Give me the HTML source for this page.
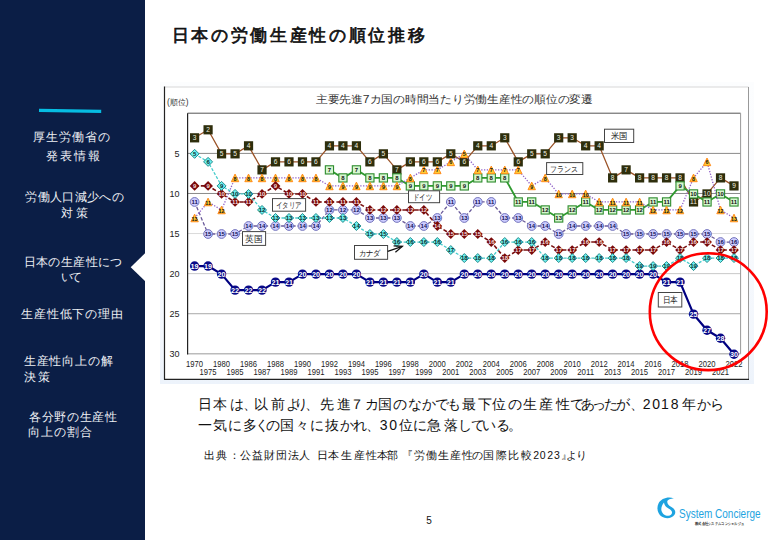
<!DOCTYPE html>
<html><head><meta charset="utf-8"><style>
*{margin:0;padding:0;box-sizing:border-box}
html,body{width:780px;height:540px;overflow:hidden;background:#fff;font-family:"Liberation Sans",sans-serif}
#side{position:absolute;left:0;top:0;width:145.3px;height:540px;background:#0b1e46}
.nav{position:absolute;color:#eef0f4;font-size:12.2px;line-height:17px;white-space:nowrap}
.chart{position:absolute;left:0;top:0}
.chart text{font-family:"Liberation Sans",sans-serif}
.yt{font-size:9px;fill:#222}
.xt{font-size:8.4px;fill:#222}
.unit{font-size:8.4px;fill:#333}
.ct{font-size:11.4px;fill:#333}
.ml{text-anchor:middle} .b{font-weight:bold}
.lb{fill:#222}
.t{position:absolute;white-space:nowrap;line-height:1}
</style></head><body>
<div id="side"></div>
<svg style="position:absolute;left:0;top:0" width="160" height="540"><polygon points="146,252.3 130.7,267.3 146,282.1" fill="#fff"/>
<line x1="39" y1="110.35" x2="101.2" y2="111.45" stroke="#06bde2" stroke-width="3.2"/></svg>
<div class="t" style="left:171.60px;top:27.87px;font-size:16.90px;letter-spacing:2.685px;font-weight:normal;color:#111;-webkit-text-stroke:0.7px #111">日本の労働生産性の順位推移</div>
<div class="t" style="left:33.40px;top:132.19px;font-size:11.80px;letter-spacing:0.990px;font-weight:normal;color:#eef0f4">厚生労働省の</div>
<div class="t" style="left:45.60px;top:151.44px;font-size:11.80px;letter-spacing:1.980px;font-weight:normal;color:#eef0f4">発表情報</div>
<div class="t" style="left:25.20px;top:191.74px;font-size:11.80px;letter-spacing:0.347px;font-weight:normal;color:#eef0f4">労働人口減少への</div>
<div class="t" style="left:61.00px;top:207.54px;font-size:11.80px;letter-spacing:2.790px;font-weight:normal;color:#eef0f4">対策</div>
<div class="t" style="left:23.80px;top:256.79px;font-size:11.80px;letter-spacing:0.347px;font-weight:normal;color:#eef0f4">日本の生産性につ</div>
<div class="t" style="left:60.80px;top:272.24px;font-size:11.80px;letter-spacing:-2.520px;font-weight:normal;color:#eef0f4">いて</div>
<div class="t" style="left:21.40px;top:309.49px;font-size:11.80px;letter-spacing:0.733px;font-weight:normal;color:#eef0f4">生産性低下の理由</div>
<div class="t" style="left:23.80px;top:355.69px;font-size:11.80px;letter-spacing:0.810px;font-weight:normal;color:#eef0f4">生産性向上の解</div>
<div class="t" style="left:23.80px;top:371.89px;font-size:11.80px;letter-spacing:2.430px;font-weight:normal;color:#eef0f4">決策</div>
<div class="t" style="left:28.80px;top:412.39px;font-size:11.80px;letter-spacing:0.720px;font-weight:normal;color:#eef0f4">各分野の生産性</div>
<div class="t" style="left:27.80px;top:427.04px;font-size:11.80px;letter-spacing:0.990px;font-weight:normal;color:#eef0f4">向上の割合</div>
<svg class="chart" width="780" height="540" viewBox="0 0 780 540">
<defs><linearGradient id="mg" x1="0" y1="0" x2="0" y2="1"><stop offset="0" stop-color="#fcfdfe"/><stop offset="0.5" stop-color="#f8fafd"/><stop offset="0.85" stop-color="#f2f6fc"/><stop offset="1" stop-color="#edf3fb"/></linearGradient></defs>
<rect x="160" y="82" width="594" height="302" fill="url(#mg)"/>
<rect x="164.5" y="87" width="584" height="292.5" fill="#fff"/>
<line x1="164.5" y1="87" x2="748.5" y2="87" stroke="#d8d8d8" stroke-width="1.2"/>
<line x1="748.5" y1="87" x2="748.5" y2="379.5" stroke="#999" stroke-width="1"/>
<line x1="164.5" y1="86.5" x2="164.5" y2="379.5" stroke="#222" stroke-width="1.2"/>
<line x1="164" y1="379.3" x2="749" y2="379.3" stroke="#222" stroke-width="1.3"/>
<rect x="187.6" y="113.2" width="553" height="241" fill="#fff"/>
<line x1="187.6" y1="153.40" x2="740.6" y2="153.40" stroke="#8a8a8a" stroke-width="1"/>
<line x1="187.6" y1="193.48" x2="740.6" y2="193.48" stroke="#8a8a8a" stroke-width="1"/>
<line x1="187.6" y1="233.56" x2="740.6" y2="233.56" stroke="#dadada" stroke-width="1"/>
<line x1="187.6" y1="273.64" x2="740.6" y2="273.64" stroke="#c8c8c8" stroke-width="1"/>
<line x1="187.6" y1="313.72" x2="740.6" y2="313.72" stroke="#a8a8a8" stroke-width="1"/>
<line x1="187.6" y1="113.2" x2="740.6" y2="113.2" stroke="#555" stroke-width="1"/>
<line x1="740.6" y1="113.2" x2="740.6" y2="354" stroke="#999" stroke-width="1"/>
<line x1="187.6" y1="353.8" x2="740.6" y2="353.8" stroke="#bbb" stroke-width="1.6"/>
<line x1="187.6" y1="113.2" x2="187.6" y2="354.4" stroke="#222" stroke-width="1.2"/>
<text x="179.5" y="156.60" text-anchor="end" class="yt">5</text>
<text x="179.5" y="196.68" text-anchor="end" class="yt">10</text>
<text x="179.5" y="236.76" text-anchor="end" class="yt">15</text>
<text x="179.5" y="276.84" text-anchor="end" class="yt">20</text>
<text x="179.5" y="316.92" text-anchor="end" class="yt">25</text>
<text x="179.5" y="357.00" text-anchor="end" class="yt">30</text>
<text x="167" y="104.6" class="unit" textLength="21.5" lengthAdjust="spacingAndGlyphs">(順位)</text>
<text x="194.60" y="367" text-anchor="middle" class="xt" textLength="17" lengthAdjust="spacingAndGlyphs">1970</text>
<text x="208.08" y="375" text-anchor="middle" class="xt" textLength="17" lengthAdjust="spacingAndGlyphs">1975</text>
<text x="221.57" y="367" text-anchor="middle" class="xt" textLength="17" lengthAdjust="spacingAndGlyphs">1980</text>
<text x="235.06" y="375" text-anchor="middle" class="xt" textLength="17" lengthAdjust="spacingAndGlyphs">1985</text>
<text x="248.54" y="367" text-anchor="middle" class="xt" textLength="17" lengthAdjust="spacingAndGlyphs">1986</text>
<text x="262.02" y="375" text-anchor="middle" class="xt" textLength="17" lengthAdjust="spacingAndGlyphs">1987</text>
<text x="275.51" y="367" text-anchor="middle" class="xt" textLength="17" lengthAdjust="spacingAndGlyphs">1988</text>
<text x="289.00" y="375" text-anchor="middle" class="xt" textLength="17" lengthAdjust="spacingAndGlyphs">1989</text>
<text x="302.48" y="367" text-anchor="middle" class="xt" textLength="17" lengthAdjust="spacingAndGlyphs">1990</text>
<text x="315.96" y="375" text-anchor="middle" class="xt" textLength="17" lengthAdjust="spacingAndGlyphs">1991</text>
<text x="329.45" y="367" text-anchor="middle" class="xt" textLength="17" lengthAdjust="spacingAndGlyphs">1992</text>
<text x="342.93" y="375" text-anchor="middle" class="xt" textLength="17" lengthAdjust="spacingAndGlyphs">1993</text>
<text x="356.42" y="367" text-anchor="middle" class="xt" textLength="17" lengthAdjust="spacingAndGlyphs">1994</text>
<text x="369.90" y="375" text-anchor="middle" class="xt" textLength="17" lengthAdjust="spacingAndGlyphs">1995</text>
<text x="383.39" y="367" text-anchor="middle" class="xt" textLength="17" lengthAdjust="spacingAndGlyphs">1996</text>
<text x="396.88" y="375" text-anchor="middle" class="xt" textLength="17" lengthAdjust="spacingAndGlyphs">1997</text>
<text x="410.36" y="367" text-anchor="middle" class="xt" textLength="17" lengthAdjust="spacingAndGlyphs">1998</text>
<text x="423.85" y="375" text-anchor="middle" class="xt" textLength="17" lengthAdjust="spacingAndGlyphs">1999</text>
<text x="437.33" y="367" text-anchor="middle" class="xt" textLength="17" lengthAdjust="spacingAndGlyphs">2000</text>
<text x="450.81" y="375" text-anchor="middle" class="xt" textLength="17" lengthAdjust="spacingAndGlyphs">2001</text>
<text x="464.30" y="367" text-anchor="middle" class="xt" textLength="17" lengthAdjust="spacingAndGlyphs">2002</text>
<text x="477.78" y="375" text-anchor="middle" class="xt" textLength="17" lengthAdjust="spacingAndGlyphs">2003</text>
<text x="491.27" y="367" text-anchor="middle" class="xt" textLength="17" lengthAdjust="spacingAndGlyphs">2004</text>
<text x="504.75" y="375" text-anchor="middle" class="xt" textLength="17" lengthAdjust="spacingAndGlyphs">2005</text>
<text x="518.24" y="367" text-anchor="middle" class="xt" textLength="17" lengthAdjust="spacingAndGlyphs">2006</text>
<text x="531.73" y="375" text-anchor="middle" class="xt" textLength="17" lengthAdjust="spacingAndGlyphs">2007</text>
<text x="545.21" y="367" text-anchor="middle" class="xt" textLength="17" lengthAdjust="spacingAndGlyphs">2008</text>
<text x="558.69" y="375" text-anchor="middle" class="xt" textLength="17" lengthAdjust="spacingAndGlyphs">2009</text>
<text x="572.18" y="367" text-anchor="middle" class="xt" textLength="17" lengthAdjust="spacingAndGlyphs">2010</text>
<text x="585.66" y="375" text-anchor="middle" class="xt" textLength="17" lengthAdjust="spacingAndGlyphs">2011</text>
<text x="599.15" y="367" text-anchor="middle" class="xt" textLength="17" lengthAdjust="spacingAndGlyphs">2012</text>
<text x="612.63" y="375" text-anchor="middle" class="xt" textLength="17" lengthAdjust="spacingAndGlyphs">2013</text>
<text x="626.12" y="367" text-anchor="middle" class="xt" textLength="17" lengthAdjust="spacingAndGlyphs">2014</text>
<text x="639.61" y="375" text-anchor="middle" class="xt" textLength="17" lengthAdjust="spacingAndGlyphs">2015</text>
<text x="653.09" y="367" text-anchor="middle" class="xt" textLength="17" lengthAdjust="spacingAndGlyphs">2016</text>
<text x="666.57" y="375" text-anchor="middle" class="xt" textLength="17" lengthAdjust="spacingAndGlyphs">2017</text>
<text x="680.06" y="367" text-anchor="middle" class="xt" textLength="17" lengthAdjust="spacingAndGlyphs">2018</text>
<text x="693.54" y="375" text-anchor="middle" class="xt" textLength="17" lengthAdjust="spacingAndGlyphs">2019</text>
<text x="707.03" y="367" text-anchor="middle" class="xt" textLength="17" lengthAdjust="spacingAndGlyphs">2020</text>
<text x="720.51" y="375" text-anchor="middle" class="xt" textLength="17" lengthAdjust="spacingAndGlyphs">2021</text>
<text x="734.00" y="367" text-anchor="middle" class="xt" textLength="17" lengthAdjust="spacingAndGlyphs">2022</text>
<text x="315.8" y="103.1" class="ct" textLength="277" lengthAdjust="spacingAndGlyphs">主要先進7カ国の時間当たり労働生産性の順位の変遷</text>
<polyline points="194.60,266.07 208.08,266.07 221.57,274.09 235.06,290.12 248.54,290.12 262.02,290.12 275.51,282.11 289.00,282.11 302.48,274.09 315.96,274.09 329.45,274.09 342.93,274.09 356.42,274.09 369.90,282.11 383.39,282.11 396.88,282.11 410.36,282.11 423.85,274.09 437.33,282.11 450.81,282.11 464.30,274.09 477.78,274.09 491.27,274.09 504.75,274.09 518.24,274.09 531.73,274.09 545.21,274.09 558.69,274.09 572.18,274.09 585.66,274.09 599.15,274.09 612.63,274.09 626.12,274.09 639.61,274.09 653.09,274.09 666.57,282.11 680.06,282.11 693.54,314.17 707.03,330.20 720.51,338.22 734.00,354.25" fill="none" stroke="#000080" stroke-width="2.2" stroke-linecap="butt" stroke-linejoin="round"/>
<circle cx="194.60" cy="266.07" r="4.7" fill="#0a0a88"/>
<text x="194.60" y="268.67" class="ml b" fill="#ffffff" font-size="7.2">19</text>
<circle cx="208.08" cy="266.07" r="4.7" fill="#0a0a88"/>
<text x="208.08" y="268.67" class="ml b" fill="#ffffff" font-size="7.2">19</text>
<circle cx="221.57" cy="274.09" r="4.7" fill="#0a0a88"/>
<text x="221.57" y="276.68" class="ml b" fill="#ffffff" font-size="7.2">20</text>
<circle cx="235.06" cy="290.12" r="4.7" fill="#0a0a88"/>
<text x="235.06" y="292.71" class="ml b" fill="#ffffff" font-size="7.2">22</text>
<circle cx="248.54" cy="290.12" r="4.7" fill="#0a0a88"/>
<text x="248.54" y="292.71" class="ml b" fill="#ffffff" font-size="7.2">22</text>
<circle cx="262.02" cy="290.12" r="4.7" fill="#0a0a88"/>
<text x="262.02" y="292.71" class="ml b" fill="#ffffff" font-size="7.2">22</text>
<circle cx="275.51" cy="282.11" r="4.7" fill="#0a0a88"/>
<text x="275.51" y="284.70" class="ml b" fill="#ffffff" font-size="7.2">21</text>
<circle cx="289.00" cy="282.11" r="4.7" fill="#0a0a88"/>
<text x="289.00" y="284.70" class="ml b" fill="#ffffff" font-size="7.2">21</text>
<circle cx="302.48" cy="274.09" r="4.7" fill="#0a0a88"/>
<text x="302.48" y="276.68" class="ml b" fill="#ffffff" font-size="7.2">20</text>
<circle cx="315.96" cy="274.09" r="4.7" fill="#0a0a88"/>
<text x="315.96" y="276.68" class="ml b" fill="#ffffff" font-size="7.2">20</text>
<circle cx="329.45" cy="274.09" r="4.7" fill="#0a0a88"/>
<text x="329.45" y="276.68" class="ml b" fill="#ffffff" font-size="7.2">20</text>
<circle cx="342.93" cy="274.09" r="4.7" fill="#0a0a88"/>
<text x="342.93" y="276.68" class="ml b" fill="#ffffff" font-size="7.2">20</text>
<circle cx="356.42" cy="274.09" r="4.7" fill="#0a0a88"/>
<text x="356.42" y="276.68" class="ml b" fill="#ffffff" font-size="7.2">20</text>
<circle cx="369.90" cy="282.11" r="4.7" fill="#0a0a88"/>
<text x="369.90" y="284.70" class="ml b" fill="#ffffff" font-size="7.2">21</text>
<circle cx="383.39" cy="282.11" r="4.7" fill="#0a0a88"/>
<text x="383.39" y="284.70" class="ml b" fill="#ffffff" font-size="7.2">21</text>
<circle cx="396.88" cy="282.11" r="4.7" fill="#0a0a88"/>
<text x="396.88" y="284.70" class="ml b" fill="#ffffff" font-size="7.2">21</text>
<circle cx="410.36" cy="282.11" r="4.7" fill="#0a0a88"/>
<text x="410.36" y="284.70" class="ml b" fill="#ffffff" font-size="7.2">21</text>
<circle cx="423.85" cy="274.09" r="4.7" fill="#0a0a88"/>
<text x="423.85" y="276.68" class="ml b" fill="#ffffff" font-size="7.2">20</text>
<circle cx="437.33" cy="282.11" r="4.7" fill="#0a0a88"/>
<text x="437.33" y="284.70" class="ml b" fill="#ffffff" font-size="7.2">21</text>
<circle cx="450.81" cy="282.11" r="4.7" fill="#0a0a88"/>
<text x="450.81" y="284.70" class="ml b" fill="#ffffff" font-size="7.2">21</text>
<circle cx="464.30" cy="274.09" r="4.7" fill="#0a0a88"/>
<text x="464.30" y="276.68" class="ml b" fill="#ffffff" font-size="7.2">20</text>
<circle cx="477.78" cy="274.09" r="4.7" fill="#0a0a88"/>
<text x="477.78" y="276.68" class="ml b" fill="#ffffff" font-size="7.2">20</text>
<circle cx="491.27" cy="274.09" r="4.7" fill="#0a0a88"/>
<text x="491.27" y="276.68" class="ml b" fill="#ffffff" font-size="7.2">20</text>
<circle cx="504.75" cy="274.09" r="4.7" fill="#0a0a88"/>
<text x="504.75" y="276.68" class="ml b" fill="#ffffff" font-size="7.2">20</text>
<circle cx="518.24" cy="274.09" r="4.7" fill="#0a0a88"/>
<text x="518.24" y="276.68" class="ml b" fill="#ffffff" font-size="7.2">20</text>
<circle cx="531.73" cy="274.09" r="4.7" fill="#0a0a88"/>
<text x="531.73" y="276.68" class="ml b" fill="#ffffff" font-size="7.2">20</text>
<circle cx="545.21" cy="274.09" r="4.7" fill="#0a0a88"/>
<text x="545.21" y="276.68" class="ml b" fill="#ffffff" font-size="7.2">20</text>
<circle cx="558.69" cy="274.09" r="4.7" fill="#0a0a88"/>
<text x="558.69" y="276.68" class="ml b" fill="#ffffff" font-size="7.2">20</text>
<circle cx="572.18" cy="274.09" r="4.7" fill="#0a0a88"/>
<text x="572.18" y="276.68" class="ml b" fill="#ffffff" font-size="7.2">20</text>
<circle cx="585.66" cy="274.09" r="4.7" fill="#0a0a88"/>
<text x="585.66" y="276.68" class="ml b" fill="#ffffff" font-size="7.2">20</text>
<circle cx="599.15" cy="274.09" r="4.7" fill="#0a0a88"/>
<text x="599.15" y="276.68" class="ml b" fill="#ffffff" font-size="7.2">20</text>
<circle cx="612.63" cy="274.09" r="4.7" fill="#0a0a88"/>
<text x="612.63" y="276.68" class="ml b" fill="#ffffff" font-size="7.2">20</text>
<circle cx="626.12" cy="274.09" r="4.7" fill="#0a0a88"/>
<text x="626.12" y="276.68" class="ml b" fill="#ffffff" font-size="7.2">20</text>
<circle cx="639.61" cy="274.09" r="4.7" fill="#0a0a88"/>
<text x="639.61" y="276.68" class="ml b" fill="#ffffff" font-size="7.2">20</text>
<circle cx="653.09" cy="274.09" r="4.7" fill="#0a0a88"/>
<text x="653.09" y="276.68" class="ml b" fill="#ffffff" font-size="7.2">20</text>
<circle cx="666.57" cy="282.11" r="4.7" fill="#0a0a88"/>
<text x="666.57" y="284.70" class="ml b" fill="#ffffff" font-size="7.2">21</text>
<circle cx="680.06" cy="282.11" r="4.7" fill="#0a0a88"/>
<text x="680.06" y="284.70" class="ml b" fill="#ffffff" font-size="7.2">21</text>
<circle cx="693.54" cy="314.17" r="4.7" fill="#0a0a88"/>
<text x="693.54" y="316.76" class="ml b" fill="#ffffff" font-size="7.2">25</text>
<circle cx="707.03" cy="330.20" r="4.7" fill="#0a0a88"/>
<text x="707.03" y="332.79" class="ml b" fill="#ffffff" font-size="7.2">27</text>
<circle cx="720.51" cy="338.22" r="4.7" fill="#0a0a88"/>
<text x="720.51" y="340.81" class="ml b" fill="#ffffff" font-size="7.2">28</text>
<circle cx="734.00" cy="354.25" r="4.7" fill="#0a0a88"/>
<text x="734.00" y="356.84" class="ml b" fill="#ffffff" font-size="7.2">30</text>
<polyline points="194.60,137.82 208.08,129.80 221.57,153.85 235.06,153.85 248.54,145.83 262.02,169.88 275.51,161.87 289.00,161.87 302.48,161.87 315.96,161.87 329.45,145.83 342.93,145.83 356.42,145.83 369.90,161.87 383.39,153.85 396.88,169.88 410.36,161.87 423.85,161.87 437.33,161.87 450.81,153.85 464.30,161.87 477.78,145.83 491.27,145.83 504.75,137.82 518.24,161.87 531.73,153.85 545.21,153.85 558.69,137.82 572.18,137.82 585.66,145.83 599.15,145.83 612.63,177.90 626.12,169.88 639.61,177.90 653.09,177.90 666.57,177.90 680.06,177.90 693.54,201.95 707.03,193.93 720.51,177.90 734.00,185.91" fill="none" stroke="#9a5226" stroke-width="1.25" stroke-linecap="butt" stroke-linejoin="round"/>
<rect x="190.00" y="133.22" width="9.2" height="9.2" fill="#2e2e0c"/>
<text x="194.60" y="140.19" class="ml" fill="#f0f0e0" font-size="6.6">3</text>
<rect x="203.48" y="125.20" width="9.2" height="9.2" fill="#2e2e0c"/>
<text x="208.08" y="132.18" class="ml" fill="#f0f0e0" font-size="6.6">2</text>
<rect x="216.97" y="149.25" width="9.2" height="9.2" fill="#2e2e0c"/>
<text x="221.57" y="156.23" class="ml" fill="#f0f0e0" font-size="6.6">5</text>
<rect x="230.46" y="149.25" width="9.2" height="9.2" fill="#2e2e0c"/>
<text x="235.06" y="156.23" class="ml" fill="#f0f0e0" font-size="6.6">5</text>
<rect x="243.94" y="141.23" width="9.2" height="9.2" fill="#2e2e0c"/>
<text x="248.54" y="148.21" class="ml" fill="#f0f0e0" font-size="6.6">4</text>
<rect x="257.42" y="165.28" width="9.2" height="9.2" fill="#2e2e0c"/>
<text x="262.02" y="172.26" class="ml" fill="#f0f0e0" font-size="6.6">7</text>
<rect x="270.91" y="157.27" width="9.2" height="9.2" fill="#2e2e0c"/>
<text x="275.51" y="164.24" class="ml" fill="#f0f0e0" font-size="6.6">6</text>
<rect x="284.39" y="157.27" width="9.2" height="9.2" fill="#2e2e0c"/>
<text x="289.00" y="164.24" class="ml" fill="#f0f0e0" font-size="6.6">6</text>
<rect x="297.88" y="157.27" width="9.2" height="9.2" fill="#2e2e0c"/>
<text x="302.48" y="164.24" class="ml" fill="#f0f0e0" font-size="6.6">6</text>
<rect x="311.36" y="157.27" width="9.2" height="9.2" fill="#2e2e0c"/>
<text x="315.96" y="164.24" class="ml" fill="#f0f0e0" font-size="6.6">6</text>
<rect x="324.85" y="141.23" width="9.2" height="9.2" fill="#2e2e0c"/>
<text x="329.45" y="148.21" class="ml" fill="#f0f0e0" font-size="6.6">4</text>
<rect x="338.33" y="141.23" width="9.2" height="9.2" fill="#2e2e0c"/>
<text x="342.93" y="148.21" class="ml" fill="#f0f0e0" font-size="6.6">4</text>
<rect x="351.82" y="141.23" width="9.2" height="9.2" fill="#2e2e0c"/>
<text x="356.42" y="148.21" class="ml" fill="#f0f0e0" font-size="6.6">4</text>
<rect x="365.30" y="157.27" width="9.2" height="9.2" fill="#2e2e0c"/>
<text x="369.90" y="164.24" class="ml" fill="#f0f0e0" font-size="6.6">6</text>
<rect x="378.79" y="149.25" width="9.2" height="9.2" fill="#2e2e0c"/>
<text x="383.39" y="156.23" class="ml" fill="#f0f0e0" font-size="6.6">5</text>
<rect x="392.27" y="165.28" width="9.2" height="9.2" fill="#2e2e0c"/>
<text x="396.88" y="172.26" class="ml" fill="#f0f0e0" font-size="6.6">7</text>
<rect x="405.76" y="157.27" width="9.2" height="9.2" fill="#2e2e0c"/>
<text x="410.36" y="164.24" class="ml" fill="#f0f0e0" font-size="6.6">6</text>
<rect x="419.25" y="157.27" width="9.2" height="9.2" fill="#2e2e0c"/>
<text x="423.85" y="164.24" class="ml" fill="#f0f0e0" font-size="6.6">6</text>
<rect x="432.73" y="157.27" width="9.2" height="9.2" fill="#2e2e0c"/>
<text x="437.33" y="164.24" class="ml" fill="#f0f0e0" font-size="6.6">6</text>
<rect x="446.21" y="149.25" width="9.2" height="9.2" fill="#2e2e0c"/>
<text x="450.81" y="156.23" class="ml" fill="#f0f0e0" font-size="6.6">5</text>
<rect x="459.70" y="157.27" width="9.2" height="9.2" fill="#2e2e0c"/>
<text x="464.30" y="164.24" class="ml" fill="#f0f0e0" font-size="6.6">6</text>
<rect x="473.18" y="141.23" width="9.2" height="9.2" fill="#2e2e0c"/>
<text x="477.78" y="148.21" class="ml" fill="#f0f0e0" font-size="6.6">4</text>
<rect x="486.67" y="141.23" width="9.2" height="9.2" fill="#2e2e0c"/>
<text x="491.27" y="148.21" class="ml" fill="#f0f0e0" font-size="6.6">4</text>
<rect x="500.15" y="133.22" width="9.2" height="9.2" fill="#2e2e0c"/>
<text x="504.75" y="140.19" class="ml" fill="#f0f0e0" font-size="6.6">3</text>
<rect x="513.64" y="157.27" width="9.2" height="9.2" fill="#2e2e0c"/>
<text x="518.24" y="164.24" class="ml" fill="#f0f0e0" font-size="6.6">6</text>
<rect x="527.12" y="149.25" width="9.2" height="9.2" fill="#2e2e0c"/>
<text x="531.73" y="156.23" class="ml" fill="#f0f0e0" font-size="6.6">5</text>
<rect x="540.61" y="149.25" width="9.2" height="9.2" fill="#2e2e0c"/>
<text x="545.21" y="156.23" class="ml" fill="#f0f0e0" font-size="6.6">5</text>
<rect x="554.09" y="133.22" width="9.2" height="9.2" fill="#2e2e0c"/>
<text x="558.69" y="140.19" class="ml" fill="#f0f0e0" font-size="6.6">3</text>
<rect x="567.58" y="133.22" width="9.2" height="9.2" fill="#2e2e0c"/>
<text x="572.18" y="140.19" class="ml" fill="#f0f0e0" font-size="6.6">3</text>
<rect x="581.06" y="141.23" width="9.2" height="9.2" fill="#2e2e0c"/>
<text x="585.66" y="148.21" class="ml" fill="#f0f0e0" font-size="6.6">4</text>
<rect x="594.55" y="141.23" width="9.2" height="9.2" fill="#2e2e0c"/>
<text x="599.15" y="148.21" class="ml" fill="#f0f0e0" font-size="6.6">4</text>
<rect x="608.03" y="173.30" width="9.2" height="9.2" fill="#2e2e0c"/>
<text x="612.63" y="180.27" class="ml" fill="#f0f0e0" font-size="6.6">8</text>
<rect x="621.52" y="165.28" width="9.2" height="9.2" fill="#2e2e0c"/>
<text x="626.12" y="172.26" class="ml" fill="#f0f0e0" font-size="6.6">7</text>
<rect x="635.00" y="173.30" width="9.2" height="9.2" fill="#2e2e0c"/>
<text x="639.61" y="180.27" class="ml" fill="#f0f0e0" font-size="6.6">8</text>
<rect x="648.49" y="173.30" width="9.2" height="9.2" fill="#2e2e0c"/>
<text x="653.09" y="180.27" class="ml" fill="#f0f0e0" font-size="6.6">8</text>
<rect x="661.97" y="173.30" width="9.2" height="9.2" fill="#2e2e0c"/>
<text x="666.57" y="180.27" class="ml" fill="#f0f0e0" font-size="6.6">8</text>
<rect x="675.46" y="173.30" width="9.2" height="9.2" fill="#2e2e0c"/>
<text x="680.06" y="180.27" class="ml" fill="#f0f0e0" font-size="6.6">8</text>
<rect x="688.94" y="197.35" width="9.2" height="9.2" fill="#2e2e0c"/>
<text x="693.54" y="204.32" class="ml" fill="#f0f0e0" font-size="6.6">11</text>
<rect x="702.43" y="189.33" width="9.2" height="9.2" fill="#2e2e0c"/>
<text x="707.03" y="196.31" class="ml" fill="#f0f0e0" font-size="6.6">10</text>
<rect x="715.91" y="173.30" width="9.2" height="9.2" fill="#2e2e0c"/>
<text x="720.51" y="180.27" class="ml" fill="#f0f0e0" font-size="6.6">8</text>
<rect x="729.40" y="181.31" width="9.2" height="9.2" fill="#2e2e0c"/>
<text x="734.00" y="188.29" class="ml" fill="#f0f0e0" font-size="6.6">9</text>
<polyline points="194.60,201.95 208.08,234.01 221.57,234.01 235.06,234.01 248.54,225.99 262.02,225.99 275.51,225.99 289.00,225.99 302.48,225.99 315.96,225.99 329.45,209.96 342.93,209.96 356.42,209.96 369.90,217.98 383.39,217.98 396.88,217.98 410.36,225.99 423.85,225.99 437.33,217.98 450.81,201.95 464.30,217.98 477.78,201.95 491.27,201.95 504.75,217.98 518.24,217.98 531.73,225.99 545.21,225.99 558.69,234.01 572.18,225.99 585.66,225.99 599.15,225.99 612.63,225.99 626.12,234.01 639.61,234.01 653.09,234.01 666.57,234.01 680.06,234.01 693.54,234.01 707.03,234.01 720.51,242.03 734.00,242.03" fill="none" stroke="#6a5a9a" stroke-width="1.3" stroke-dasharray="3.5,2" stroke-linecap="butt" stroke-linejoin="round"/>
<circle cx="194.60" cy="201.95" r="4.4" fill="#ccccff" stroke="#7474bc" stroke-width="1.0"/>
<text x="194.60" y="204.11" class="ml b" fill="#111155" font-size="6">11</text>
<circle cx="208.08" cy="234.01" r="4.4" fill="#ccccff" stroke="#7474bc" stroke-width="1.0"/>
<text x="208.08" y="236.17" class="ml b" fill="#111155" font-size="6">15</text>
<circle cx="221.57" cy="234.01" r="4.4" fill="#ccccff" stroke="#7474bc" stroke-width="1.0"/>
<text x="221.57" y="236.17" class="ml b" fill="#111155" font-size="6">15</text>
<circle cx="235.06" cy="234.01" r="4.4" fill="#ccccff" stroke="#7474bc" stroke-width="1.0"/>
<text x="235.06" y="236.17" class="ml b" fill="#111155" font-size="6">15</text>
<circle cx="248.54" cy="225.99" r="4.4" fill="#ccccff" stroke="#7474bc" stroke-width="1.0"/>
<text x="248.54" y="228.15" class="ml b" fill="#111155" font-size="6">14</text>
<circle cx="262.02" cy="225.99" r="4.4" fill="#ccccff" stroke="#7474bc" stroke-width="1.0"/>
<text x="262.02" y="228.15" class="ml b" fill="#111155" font-size="6">14</text>
<circle cx="275.51" cy="225.99" r="4.4" fill="#ccccff" stroke="#7474bc" stroke-width="1.0"/>
<text x="275.51" y="228.15" class="ml b" fill="#111155" font-size="6">14</text>
<circle cx="289.00" cy="225.99" r="4.4" fill="#ccccff" stroke="#7474bc" stroke-width="1.0"/>
<text x="289.00" y="228.15" class="ml b" fill="#111155" font-size="6">14</text>
<circle cx="302.48" cy="225.99" r="4.4" fill="#ccccff" stroke="#7474bc" stroke-width="1.0"/>
<text x="302.48" y="228.15" class="ml b" fill="#111155" font-size="6">14</text>
<circle cx="315.96" cy="225.99" r="4.4" fill="#ccccff" stroke="#7474bc" stroke-width="1.0"/>
<text x="315.96" y="228.15" class="ml b" fill="#111155" font-size="6">14</text>
<circle cx="329.45" cy="209.96" r="4.4" fill="#ccccff" stroke="#7474bc" stroke-width="1.0"/>
<text x="329.45" y="212.12" class="ml b" fill="#111155" font-size="6">12</text>
<circle cx="342.93" cy="209.96" r="4.4" fill="#ccccff" stroke="#7474bc" stroke-width="1.0"/>
<text x="342.93" y="212.12" class="ml b" fill="#111155" font-size="6">12</text>
<circle cx="356.42" cy="209.96" r="4.4" fill="#ccccff" stroke="#7474bc" stroke-width="1.0"/>
<text x="356.42" y="212.12" class="ml b" fill="#111155" font-size="6">12</text>
<circle cx="369.90" cy="217.98" r="4.4" fill="#ccccff" stroke="#7474bc" stroke-width="1.0"/>
<text x="369.90" y="220.14" class="ml b" fill="#111155" font-size="6">13</text>
<circle cx="383.39" cy="217.98" r="4.4" fill="#ccccff" stroke="#7474bc" stroke-width="1.0"/>
<text x="383.39" y="220.14" class="ml b" fill="#111155" font-size="6">13</text>
<circle cx="396.88" cy="217.98" r="4.4" fill="#ccccff" stroke="#7474bc" stroke-width="1.0"/>
<text x="396.88" y="220.14" class="ml b" fill="#111155" font-size="6">13</text>
<circle cx="410.36" cy="225.99" r="4.4" fill="#ccccff" stroke="#7474bc" stroke-width="1.0"/>
<text x="410.36" y="228.15" class="ml b" fill="#111155" font-size="6">14</text>
<circle cx="423.85" cy="225.99" r="4.4" fill="#ccccff" stroke="#7474bc" stroke-width="1.0"/>
<text x="423.85" y="228.15" class="ml b" fill="#111155" font-size="6">14</text>
<circle cx="437.33" cy="217.98" r="4.4" fill="#ccccff" stroke="#7474bc" stroke-width="1.0"/>
<text x="437.33" y="220.14" class="ml b" fill="#111155" font-size="6">13</text>
<circle cx="450.81" cy="201.95" r="4.4" fill="#ccccff" stroke="#7474bc" stroke-width="1.0"/>
<text x="450.81" y="204.11" class="ml b" fill="#111155" font-size="6">11</text>
<circle cx="464.30" cy="217.98" r="4.4" fill="#ccccff" stroke="#7474bc" stroke-width="1.0"/>
<text x="464.30" y="220.14" class="ml b" fill="#111155" font-size="6">13</text>
<circle cx="477.78" cy="201.95" r="4.4" fill="#ccccff" stroke="#7474bc" stroke-width="1.0"/>
<text x="477.78" y="204.11" class="ml b" fill="#111155" font-size="6">11</text>
<circle cx="491.27" cy="201.95" r="4.4" fill="#ccccff" stroke="#7474bc" stroke-width="1.0"/>
<text x="491.27" y="204.11" class="ml b" fill="#111155" font-size="6">11</text>
<circle cx="504.75" cy="217.98" r="4.4" fill="#ccccff" stroke="#7474bc" stroke-width="1.0"/>
<text x="504.75" y="220.14" class="ml b" fill="#111155" font-size="6">13</text>
<circle cx="518.24" cy="217.98" r="4.4" fill="#ccccff" stroke="#7474bc" stroke-width="1.0"/>
<text x="518.24" y="220.14" class="ml b" fill="#111155" font-size="6">13</text>
<circle cx="531.73" cy="225.99" r="4.4" fill="#ccccff" stroke="#7474bc" stroke-width="1.0"/>
<text x="531.73" y="228.15" class="ml b" fill="#111155" font-size="6">14</text>
<circle cx="545.21" cy="225.99" r="4.4" fill="#ccccff" stroke="#7474bc" stroke-width="1.0"/>
<text x="545.21" y="228.15" class="ml b" fill="#111155" font-size="6">14</text>
<circle cx="558.69" cy="234.01" r="4.4" fill="#ccccff" stroke="#7474bc" stroke-width="1.0"/>
<text x="558.69" y="236.17" class="ml b" fill="#111155" font-size="6">15</text>
<circle cx="572.18" cy="225.99" r="4.4" fill="#ccccff" stroke="#7474bc" stroke-width="1.0"/>
<text x="572.18" y="228.15" class="ml b" fill="#111155" font-size="6">14</text>
<circle cx="585.66" cy="225.99" r="4.4" fill="#ccccff" stroke="#7474bc" stroke-width="1.0"/>
<text x="585.66" y="228.15" class="ml b" fill="#111155" font-size="6">14</text>
<circle cx="599.15" cy="225.99" r="4.4" fill="#ccccff" stroke="#7474bc" stroke-width="1.0"/>
<text x="599.15" y="228.15" class="ml b" fill="#111155" font-size="6">14</text>
<circle cx="612.63" cy="225.99" r="4.4" fill="#ccccff" stroke="#7474bc" stroke-width="1.0"/>
<text x="612.63" y="228.15" class="ml b" fill="#111155" font-size="6">14</text>
<circle cx="626.12" cy="234.01" r="4.4" fill="#ccccff" stroke="#7474bc" stroke-width="1.0"/>
<text x="626.12" y="236.17" class="ml b" fill="#111155" font-size="6">15</text>
<circle cx="639.61" cy="234.01" r="4.4" fill="#ccccff" stroke="#7474bc" stroke-width="1.0"/>
<text x="639.61" y="236.17" class="ml b" fill="#111155" font-size="6">15</text>
<circle cx="653.09" cy="234.01" r="4.4" fill="#ccccff" stroke="#7474bc" stroke-width="1.0"/>
<text x="653.09" y="236.17" class="ml b" fill="#111155" font-size="6">15</text>
<circle cx="666.57" cy="234.01" r="4.4" fill="#ccccff" stroke="#7474bc" stroke-width="1.0"/>
<text x="666.57" y="236.17" class="ml b" fill="#111155" font-size="6">15</text>
<circle cx="680.06" cy="234.01" r="4.4" fill="#ccccff" stroke="#7474bc" stroke-width="1.0"/>
<text x="680.06" y="236.17" class="ml b" fill="#111155" font-size="6">15</text>
<circle cx="693.54" cy="234.01" r="4.4" fill="#ccccff" stroke="#7474bc" stroke-width="1.0"/>
<text x="693.54" y="236.17" class="ml b" fill="#111155" font-size="6">15</text>
<circle cx="707.03" cy="234.01" r="4.4" fill="#ccccff" stroke="#7474bc" stroke-width="1.0"/>
<text x="707.03" y="236.17" class="ml b" fill="#111155" font-size="6">15</text>
<circle cx="720.51" cy="242.03" r="4.4" fill="#ccccff" stroke="#7474bc" stroke-width="1.0"/>
<text x="720.51" y="244.19" class="ml b" fill="#111155" font-size="6">16</text>
<circle cx="734.00" cy="242.03" r="4.4" fill="#ccccff" stroke="#7474bc" stroke-width="1.0"/>
<text x="734.00" y="244.19" class="ml b" fill="#111155" font-size="6">16</text>
<polyline points="329.45,169.88 342.93,177.90 356.42,169.88 369.90,177.90 383.39,177.90 396.88,177.90 410.36,185.91 423.85,185.91 437.33,185.91 450.81,185.91 464.30,185.91 477.78,177.90 491.27,177.90 504.75,177.90 518.24,201.95 531.73,201.95 545.21,209.96 558.69,217.98 572.18,209.96 585.66,201.95 599.15,209.96 612.63,209.96 626.12,209.96 639.61,209.96 653.09,201.95 666.57,201.95 680.06,185.91 693.54,193.93 707.03,201.95 720.51,193.93 734.00,201.95" fill="none" stroke="#2f9a2f" stroke-width="1.8" stroke-linecap="butt" stroke-linejoin="round"/>
<rect x="325.35" y="165.78" width="8.2" height="8.2" fill="#d6f6cf" stroke="#2e8c2e" stroke-width="1.1"/>
<text x="329.45" y="172.04" class="ml b" fill="#111" font-size="6">7</text>
<rect x="338.83" y="173.80" width="8.2" height="8.2" fill="#d6f6cf" stroke="#2e8c2e" stroke-width="1.1"/>
<text x="342.93" y="180.06" class="ml b" fill="#111" font-size="6">8</text>
<rect x="352.32" y="165.78" width="8.2" height="8.2" fill="#d6f6cf" stroke="#2e8c2e" stroke-width="1.1"/>
<text x="356.42" y="172.04" class="ml b" fill="#111" font-size="6">7</text>
<rect x="365.80" y="173.80" width="8.2" height="8.2" fill="#d6f6cf" stroke="#2e8c2e" stroke-width="1.1"/>
<text x="369.90" y="180.06" class="ml b" fill="#111" font-size="6">8</text>
<rect x="379.29" y="173.80" width="8.2" height="8.2" fill="#d6f6cf" stroke="#2e8c2e" stroke-width="1.1"/>
<text x="383.39" y="180.06" class="ml b" fill="#111" font-size="6">8</text>
<rect x="392.77" y="173.80" width="8.2" height="8.2" fill="#d6f6cf" stroke="#2e8c2e" stroke-width="1.1"/>
<text x="396.88" y="180.06" class="ml b" fill="#111" font-size="6">8</text>
<rect x="406.26" y="181.81" width="8.2" height="8.2" fill="#d6f6cf" stroke="#2e8c2e" stroke-width="1.1"/>
<text x="410.36" y="188.07" class="ml b" fill="#111" font-size="6">9</text>
<rect x="419.75" y="181.81" width="8.2" height="8.2" fill="#d6f6cf" stroke="#2e8c2e" stroke-width="1.1"/>
<text x="423.85" y="188.07" class="ml b" fill="#111" font-size="6">9</text>
<rect x="433.23" y="181.81" width="8.2" height="8.2" fill="#d6f6cf" stroke="#2e8c2e" stroke-width="1.1"/>
<text x="437.33" y="188.07" class="ml b" fill="#111" font-size="6">9</text>
<rect x="446.71" y="181.81" width="8.2" height="8.2" fill="#d6f6cf" stroke="#2e8c2e" stroke-width="1.1"/>
<text x="450.81" y="188.07" class="ml b" fill="#111" font-size="6">9</text>
<rect x="460.20" y="181.81" width="8.2" height="8.2" fill="#d6f6cf" stroke="#2e8c2e" stroke-width="1.1"/>
<text x="464.30" y="188.07" class="ml b" fill="#111" font-size="6">9</text>
<rect x="473.68" y="173.80" width="8.2" height="8.2" fill="#d6f6cf" stroke="#2e8c2e" stroke-width="1.1"/>
<text x="477.78" y="180.06" class="ml b" fill="#111" font-size="6">8</text>
<rect x="487.17" y="173.80" width="8.2" height="8.2" fill="#d6f6cf" stroke="#2e8c2e" stroke-width="1.1"/>
<text x="491.27" y="180.06" class="ml b" fill="#111" font-size="6">8</text>
<rect x="500.65" y="173.80" width="8.2" height="8.2" fill="#d6f6cf" stroke="#2e8c2e" stroke-width="1.1"/>
<text x="504.75" y="180.06" class="ml b" fill="#111" font-size="6">8</text>
<rect x="514.14" y="197.85" width="8.2" height="8.2" fill="#d6f6cf" stroke="#2e8c2e" stroke-width="1.1"/>
<text x="518.24" y="204.11" class="ml b" fill="#111" font-size="6">11</text>
<rect x="527.62" y="197.85" width="8.2" height="8.2" fill="#d6f6cf" stroke="#2e8c2e" stroke-width="1.1"/>
<text x="531.73" y="204.11" class="ml b" fill="#111" font-size="6">11</text>
<rect x="541.11" y="205.86" width="8.2" height="8.2" fill="#d6f6cf" stroke="#2e8c2e" stroke-width="1.1"/>
<text x="545.21" y="212.12" class="ml b" fill="#111" font-size="6">12</text>
<rect x="554.59" y="213.88" width="8.2" height="8.2" fill="#d6f6cf" stroke="#2e8c2e" stroke-width="1.1"/>
<text x="558.69" y="220.14" class="ml b" fill="#111" font-size="6">13</text>
<rect x="568.08" y="205.86" width="8.2" height="8.2" fill="#d6f6cf" stroke="#2e8c2e" stroke-width="1.1"/>
<text x="572.18" y="212.12" class="ml b" fill="#111" font-size="6">12</text>
<rect x="581.56" y="197.85" width="8.2" height="8.2" fill="#d6f6cf" stroke="#2e8c2e" stroke-width="1.1"/>
<text x="585.66" y="204.11" class="ml b" fill="#111" font-size="6">11</text>
<rect x="595.05" y="205.86" width="8.2" height="8.2" fill="#d6f6cf" stroke="#2e8c2e" stroke-width="1.1"/>
<text x="599.15" y="212.12" class="ml b" fill="#111" font-size="6">12</text>
<rect x="608.53" y="205.86" width="8.2" height="8.2" fill="#d6f6cf" stroke="#2e8c2e" stroke-width="1.1"/>
<text x="612.63" y="212.12" class="ml b" fill="#111" font-size="6">12</text>
<rect x="622.02" y="205.86" width="8.2" height="8.2" fill="#d6f6cf" stroke="#2e8c2e" stroke-width="1.1"/>
<text x="626.12" y="212.12" class="ml b" fill="#111" font-size="6">12</text>
<rect x="635.50" y="205.86" width="8.2" height="8.2" fill="#d6f6cf" stroke="#2e8c2e" stroke-width="1.1"/>
<text x="639.61" y="212.12" class="ml b" fill="#111" font-size="6">12</text>
<rect x="648.99" y="197.85" width="8.2" height="8.2" fill="#d6f6cf" stroke="#2e8c2e" stroke-width="1.1"/>
<text x="653.09" y="204.11" class="ml b" fill="#111" font-size="6">11</text>
<rect x="662.47" y="197.85" width="8.2" height="8.2" fill="#d6f6cf" stroke="#2e8c2e" stroke-width="1.1"/>
<text x="666.57" y="204.11" class="ml b" fill="#111" font-size="6">11</text>
<rect x="675.96" y="181.81" width="8.2" height="8.2" fill="#d6f6cf" stroke="#2e8c2e" stroke-width="1.1"/>
<text x="680.06" y="188.07" class="ml b" fill="#111" font-size="6">9</text>
<rect x="689.44" y="189.83" width="8.2" height="8.2" fill="#d6f6cf" stroke="#2e8c2e" stroke-width="1.1"/>
<text x="693.54" y="196.09" class="ml b" fill="#111" font-size="6">10</text>
<rect x="702.93" y="197.85" width="8.2" height="8.2" fill="#d6f6cf" stroke="#2e8c2e" stroke-width="1.1"/>
<text x="707.03" y="204.11" class="ml b" fill="#111" font-size="6">11</text>
<rect x="716.41" y="189.83" width="8.2" height="8.2" fill="#d6f6cf" stroke="#2e8c2e" stroke-width="1.1"/>
<text x="720.51" y="196.09" class="ml b" fill="#111" font-size="6">10</text>
<rect x="729.90" y="197.85" width="8.2" height="8.2" fill="#d6f6cf" stroke="#2e8c2e" stroke-width="1.1"/>
<text x="734.00" y="204.11" class="ml b" fill="#111" font-size="6">11</text>
<polyline points="194.60,217.98 208.08,201.95 221.57,209.96 235.06,177.90 248.54,177.90 262.02,177.90 275.51,177.90 289.00,177.90 302.48,177.90 315.96,177.90 329.45,185.91 342.93,185.91 356.42,185.91 369.90,185.91 383.39,185.91 396.88,185.91 410.36,177.90 423.85,169.88 437.33,169.88 450.81,161.87 464.30,153.85 477.78,169.88 491.27,169.88 504.75,169.88 518.24,169.88 531.73,185.91 545.21,177.90 558.69,193.93 572.18,193.93 585.66,193.93 599.15,201.95 612.63,201.95 626.12,201.95 639.61,201.95 653.09,209.96 666.57,209.96 680.06,209.96 693.54,177.90 707.03,161.87 720.51,209.96 734.00,217.98" fill="none" stroke="#9060c8" stroke-width="1.3" stroke-dasharray="1.3,1.5" stroke-linecap="butt" stroke-linejoin="round"/>
<polygon points="194.60,214.18 198.30,221.78 190.90,221.78" fill="#ffcc33" stroke="#ff8a1a" stroke-width="1.0" stroke-linejoin="round"/>
<text x="194.60" y="220.58" class="ml b" fill="#111" font-size="5.4">13</text>
<polygon points="208.08,198.15 211.78,205.75 204.38,205.75" fill="#ffcc33" stroke="#ff8a1a" stroke-width="1.0" stroke-linejoin="round"/>
<text x="208.08" y="204.55" class="ml b" fill="#111" font-size="5.4">11</text>
<polygon points="221.57,206.16 225.27,213.76 217.87,213.76" fill="#ffcc33" stroke="#ff8a1a" stroke-width="1.0" stroke-linejoin="round"/>
<text x="221.57" y="212.56" class="ml b" fill="#111" font-size="5.4">12</text>
<polygon points="235.06,174.10 238.75,181.70 231.36,181.70" fill="#ffcc33" stroke="#ff8a1a" stroke-width="1.0" stroke-linejoin="round"/>
<text x="235.06" y="180.50" class="ml b" fill="#111" font-size="5.4">8</text>
<polygon points="248.54,174.10 252.24,181.70 244.84,181.70" fill="#ffcc33" stroke="#ff8a1a" stroke-width="1.0" stroke-linejoin="round"/>
<text x="248.54" y="180.50" class="ml b" fill="#111" font-size="5.4">8</text>
<polygon points="262.02,174.10 265.72,181.70 258.32,181.70" fill="#ffcc33" stroke="#ff8a1a" stroke-width="1.0" stroke-linejoin="round"/>
<text x="262.02" y="180.50" class="ml b" fill="#111" font-size="5.4">8</text>
<polygon points="275.51,174.10 279.21,181.70 271.81,181.70" fill="#ffcc33" stroke="#ff8a1a" stroke-width="1.0" stroke-linejoin="round"/>
<text x="275.51" y="180.50" class="ml b" fill="#111" font-size="5.4">8</text>
<polygon points="289.00,174.10 292.69,181.70 285.30,181.70" fill="#ffcc33" stroke="#ff8a1a" stroke-width="1.0" stroke-linejoin="round"/>
<text x="289.00" y="180.50" class="ml b" fill="#111" font-size="5.4">8</text>
<polygon points="302.48,174.10 306.18,181.70 298.78,181.70" fill="#ffcc33" stroke="#ff8a1a" stroke-width="1.0" stroke-linejoin="round"/>
<text x="302.48" y="180.50" class="ml b" fill="#111" font-size="5.4">8</text>
<polygon points="315.96,174.10 319.66,181.70 312.26,181.70" fill="#ffcc33" stroke="#ff8a1a" stroke-width="1.0" stroke-linejoin="round"/>
<text x="315.96" y="180.50" class="ml b" fill="#111" font-size="5.4">8</text>
<polygon points="329.45,182.11 333.15,189.71 325.75,189.71" fill="#ffcc33" stroke="#ff8a1a" stroke-width="1.0" stroke-linejoin="round"/>
<text x="329.45" y="188.51" class="ml b" fill="#111" font-size="5.4">9</text>
<polygon points="342.93,182.11 346.63,189.71 339.23,189.71" fill="#ffcc33" stroke="#ff8a1a" stroke-width="1.0" stroke-linejoin="round"/>
<text x="342.93" y="188.51" class="ml b" fill="#111" font-size="5.4">9</text>
<polygon points="356.42,182.11 360.12,189.71 352.72,189.71" fill="#ffcc33" stroke="#ff8a1a" stroke-width="1.0" stroke-linejoin="round"/>
<text x="356.42" y="188.51" class="ml b" fill="#111" font-size="5.4">9</text>
<polygon points="369.90,182.11 373.60,189.71 366.20,189.71" fill="#ffcc33" stroke="#ff8a1a" stroke-width="1.0" stroke-linejoin="round"/>
<text x="369.90" y="188.51" class="ml b" fill="#111" font-size="5.4">9</text>
<polygon points="383.39,182.11 387.09,189.71 379.69,189.71" fill="#ffcc33" stroke="#ff8a1a" stroke-width="1.0" stroke-linejoin="round"/>
<text x="383.39" y="188.51" class="ml b" fill="#111" font-size="5.4">9</text>
<polygon points="396.88,182.11 400.57,189.71 393.18,189.71" fill="#ffcc33" stroke="#ff8a1a" stroke-width="1.0" stroke-linejoin="round"/>
<text x="396.88" y="188.51" class="ml b" fill="#111" font-size="5.4">9</text>
<polygon points="410.36,174.10 414.06,181.70 406.66,181.70" fill="#ffcc33" stroke="#ff8a1a" stroke-width="1.0" stroke-linejoin="round"/>
<text x="410.36" y="180.50" class="ml b" fill="#111" font-size="5.4">8</text>
<polygon points="423.85,166.08 427.55,173.68 420.15,173.68" fill="#ffcc33" stroke="#ff8a1a" stroke-width="1.0" stroke-linejoin="round"/>
<text x="423.85" y="172.48" class="ml b" fill="#111" font-size="5.4">7</text>
<polygon points="437.33,166.08 441.03,173.68 433.63,173.68" fill="#ffcc33" stroke="#ff8a1a" stroke-width="1.0" stroke-linejoin="round"/>
<text x="437.33" y="172.48" class="ml b" fill="#111" font-size="5.4">7</text>
<polygon points="450.81,158.07 454.51,165.67 447.11,165.67" fill="#ffcc33" stroke="#ff8a1a" stroke-width="1.0" stroke-linejoin="round"/>
<text x="450.81" y="164.47" class="ml b" fill="#111" font-size="5.4">6</text>
<polygon points="464.30,150.05 468.00,157.65 460.60,157.65" fill="#ffcc33" stroke="#ff8a1a" stroke-width="1.0" stroke-linejoin="round"/>
<text x="464.30" y="156.45" class="ml b" fill="#111" font-size="5.4">5</text>
<polygon points="477.78,166.08 481.48,173.68 474.08,173.68" fill="#ffcc33" stroke="#ff8a1a" stroke-width="1.0" stroke-linejoin="round"/>
<text x="477.78" y="172.48" class="ml b" fill="#111" font-size="5.4">7</text>
<polygon points="491.27,166.08 494.97,173.68 487.57,173.68" fill="#ffcc33" stroke="#ff8a1a" stroke-width="1.0" stroke-linejoin="round"/>
<text x="491.27" y="172.48" class="ml b" fill="#111" font-size="5.4">7</text>
<polygon points="504.75,166.08 508.45,173.68 501.06,173.68" fill="#ffcc33" stroke="#ff8a1a" stroke-width="1.0" stroke-linejoin="round"/>
<text x="504.75" y="172.48" class="ml b" fill="#111" font-size="5.4">7</text>
<polygon points="518.24,166.08 521.94,173.68 514.54,173.68" fill="#ffcc33" stroke="#ff8a1a" stroke-width="1.0" stroke-linejoin="round"/>
<text x="518.24" y="172.48" class="ml b" fill="#111" font-size="5.4">7</text>
<polygon points="531.73,182.11 535.43,189.71 528.02,189.71" fill="#ffcc33" stroke="#ff8a1a" stroke-width="1.0" stroke-linejoin="round"/>
<text x="531.73" y="188.51" class="ml b" fill="#111" font-size="5.4">9</text>
<polygon points="545.21,174.10 548.91,181.70 541.51,181.70" fill="#ffcc33" stroke="#ff8a1a" stroke-width="1.0" stroke-linejoin="round"/>
<text x="545.21" y="180.50" class="ml b" fill="#111" font-size="5.4">8</text>
<polygon points="558.69,190.13 562.39,197.73 554.99,197.73" fill="#ffcc33" stroke="#ff8a1a" stroke-width="1.0" stroke-linejoin="round"/>
<text x="558.69" y="196.53" class="ml b" fill="#111" font-size="5.4">10</text>
<polygon points="572.18,190.13 575.88,197.73 568.48,197.73" fill="#ffcc33" stroke="#ff8a1a" stroke-width="1.0" stroke-linejoin="round"/>
<text x="572.18" y="196.53" class="ml b" fill="#111" font-size="5.4">10</text>
<polygon points="585.66,190.13 589.37,197.73 581.96,197.73" fill="#ffcc33" stroke="#ff8a1a" stroke-width="1.0" stroke-linejoin="round"/>
<text x="585.66" y="196.53" class="ml b" fill="#111" font-size="5.4">10</text>
<polygon points="599.15,198.15 602.85,205.75 595.45,205.75" fill="#ffcc33" stroke="#ff8a1a" stroke-width="1.0" stroke-linejoin="round"/>
<text x="599.15" y="204.55" class="ml b" fill="#111" font-size="5.4">11</text>
<polygon points="612.63,198.15 616.34,205.75 608.93,205.75" fill="#ffcc33" stroke="#ff8a1a" stroke-width="1.0" stroke-linejoin="round"/>
<text x="612.63" y="204.55" class="ml b" fill="#111" font-size="5.4">11</text>
<polygon points="626.12,198.15 629.82,205.75 622.42,205.75" fill="#ffcc33" stroke="#ff8a1a" stroke-width="1.0" stroke-linejoin="round"/>
<text x="626.12" y="204.55" class="ml b" fill="#111" font-size="5.4">11</text>
<polygon points="639.61,198.15 643.31,205.75 635.90,205.75" fill="#ffcc33" stroke="#ff8a1a" stroke-width="1.0" stroke-linejoin="round"/>
<text x="639.61" y="204.55" class="ml b" fill="#111" font-size="5.4">11</text>
<polygon points="653.09,206.16 656.79,213.76 649.39,213.76" fill="#ffcc33" stroke="#ff8a1a" stroke-width="1.0" stroke-linejoin="round"/>
<text x="653.09" y="212.56" class="ml b" fill="#111" font-size="5.4">12</text>
<polygon points="666.57,206.16 670.27,213.76 662.87,213.76" fill="#ffcc33" stroke="#ff8a1a" stroke-width="1.0" stroke-linejoin="round"/>
<text x="666.57" y="212.56" class="ml b" fill="#111" font-size="5.4">12</text>
<polygon points="680.06,206.16 683.76,213.76 676.36,213.76" fill="#ffcc33" stroke="#ff8a1a" stroke-width="1.0" stroke-linejoin="round"/>
<text x="680.06" y="212.56" class="ml b" fill="#111" font-size="5.4">12</text>
<polygon points="693.54,174.10 697.25,181.70 689.84,181.70" fill="#ffcc33" stroke="#ff8a1a" stroke-width="1.0" stroke-linejoin="round"/>
<text x="693.54" y="180.50" class="ml b" fill="#111" font-size="5.4">8</text>
<polygon points="707.03,158.07 710.73,165.67 703.33,165.67" fill="#ffcc33" stroke="#ff8a1a" stroke-width="1.0" stroke-linejoin="round"/>
<text x="707.03" y="164.47" class="ml b" fill="#111" font-size="5.4">6</text>
<polygon points="720.51,206.16 724.22,213.76 716.81,213.76" fill="#ffcc33" stroke="#ff8a1a" stroke-width="1.0" stroke-linejoin="round"/>
<text x="720.51" y="212.56" class="ml b" fill="#111" font-size="5.4">12</text>
<polygon points="734.00,214.18 737.70,221.78 730.30,221.78" fill="#ffcc33" stroke="#ff8a1a" stroke-width="1.0" stroke-linejoin="round"/>
<text x="734.00" y="220.58" class="ml b" fill="#111" font-size="5.4">13</text>
<polyline points="194.60,185.91 208.08,185.91 221.57,193.93 235.06,201.95 248.54,201.95 262.02,193.93 275.51,185.91 289.00,193.93 302.48,193.93 315.96,201.95 329.45,201.95 342.93,201.95 356.42,201.95 369.90,209.96 383.39,209.96 396.88,209.96 410.36,209.96 423.85,209.96 437.33,225.99 450.81,234.01 464.30,234.01 477.78,234.01 491.27,242.03 504.75,258.06 518.24,250.04 531.73,250.04 545.21,242.03 558.69,250.04 572.18,250.04 585.66,242.03 599.15,242.03 612.63,250.04 626.12,250.04 639.61,250.04 653.09,250.04 666.57,242.03 680.06,250.04 693.54,242.03 707.03,242.03 720.51,250.04 734.00,250.04" fill="none" stroke="#7a1010" stroke-width="1.6" stroke-dasharray="4,2.2" stroke-linecap="butt" stroke-linejoin="round"/>
<polygon points="194.60,181.01 199.50,185.91 194.60,190.81 189.70,185.91" fill="#7a0a0a"/>
<text x="194.60" y="188.07" class="ml b" fill="#f2dede" font-size="6">9</text>
<polygon points="208.08,181.01 212.98,185.91 208.08,190.81 203.18,185.91" fill="#7a0a0a"/>
<text x="208.08" y="188.07" class="ml b" fill="#f2dede" font-size="6">9</text>
<polygon points="221.57,189.03 226.47,193.93 221.57,198.83 216.67,193.93" fill="#7a0a0a"/>
<text x="221.57" y="196.09" class="ml b" fill="#f2dede" font-size="6">10</text>
<polygon points="235.06,197.05 239.96,201.95 235.06,206.85 230.16,201.95" fill="#7a0a0a"/>
<text x="235.06" y="204.11" class="ml b" fill="#f2dede" font-size="6">11</text>
<polygon points="248.54,197.05 253.44,201.95 248.54,206.85 243.64,201.95" fill="#7a0a0a"/>
<text x="248.54" y="204.11" class="ml b" fill="#f2dede" font-size="6">11</text>
<polygon points="262.02,189.03 266.92,193.93 262.02,198.83 257.12,193.93" fill="#7a0a0a"/>
<text x="262.02" y="196.09" class="ml b" fill="#f2dede" font-size="6">10</text>
<polygon points="275.51,181.01 280.41,185.91 275.51,190.81 270.61,185.91" fill="#7a0a0a"/>
<text x="275.51" y="188.07" class="ml b" fill="#f2dede" font-size="6">9</text>
<polygon points="289.00,189.03 293.89,193.93 289.00,198.83 284.10,193.93" fill="#7a0a0a"/>
<text x="289.00" y="196.09" class="ml b" fill="#f2dede" font-size="6">10</text>
<polygon points="302.48,189.03 307.38,193.93 302.48,198.83 297.58,193.93" fill="#7a0a0a"/>
<text x="302.48" y="196.09" class="ml b" fill="#f2dede" font-size="6">10</text>
<polygon points="315.96,197.05 320.86,201.95 315.96,206.85 311.06,201.95" fill="#7a0a0a"/>
<text x="315.96" y="204.11" class="ml b" fill="#f2dede" font-size="6">11</text>
<polygon points="329.45,197.05 334.35,201.95 329.45,206.85 324.55,201.95" fill="#7a0a0a"/>
<text x="329.45" y="204.11" class="ml b" fill="#f2dede" font-size="6">11</text>
<polygon points="342.93,197.05 347.83,201.95 342.93,206.85 338.03,201.95" fill="#7a0a0a"/>
<text x="342.93" y="204.11" class="ml b" fill="#f2dede" font-size="6">11</text>
<polygon points="356.42,197.05 361.32,201.95 356.42,206.85 351.52,201.95" fill="#7a0a0a"/>
<text x="356.42" y="204.11" class="ml b" fill="#f2dede" font-size="6">11</text>
<polygon points="369.90,205.06 374.80,209.96 369.90,214.86 365.00,209.96" fill="#7a0a0a"/>
<text x="369.90" y="212.12" class="ml b" fill="#f2dede" font-size="6">12</text>
<polygon points="383.39,205.06 388.29,209.96 383.39,214.86 378.49,209.96" fill="#7a0a0a"/>
<text x="383.39" y="212.12" class="ml b" fill="#f2dede" font-size="6">12</text>
<polygon points="396.88,205.06 401.77,209.96 396.88,214.86 391.98,209.96" fill="#7a0a0a"/>
<text x="396.88" y="212.12" class="ml b" fill="#f2dede" font-size="6">12</text>
<polygon points="410.36,205.06 415.26,209.96 410.36,214.86 405.46,209.96" fill="#7a0a0a"/>
<text x="410.36" y="212.12" class="ml b" fill="#f2dede" font-size="6">12</text>
<polygon points="423.85,205.06 428.75,209.96 423.85,214.86 418.95,209.96" fill="#7a0a0a"/>
<text x="423.85" y="212.12" class="ml b" fill="#f2dede" font-size="6">12</text>
<polygon points="437.33,221.09 442.23,225.99 437.33,230.89 432.43,225.99" fill="#7a0a0a"/>
<text x="437.33" y="228.15" class="ml b" fill="#f2dede" font-size="6">14</text>
<polygon points="450.81,229.11 455.71,234.01 450.81,238.91 445.91,234.01" fill="#7a0a0a"/>
<text x="450.81" y="236.17" class="ml b" fill="#f2dede" font-size="6">15</text>
<polygon points="464.30,229.11 469.20,234.01 464.30,238.91 459.40,234.01" fill="#7a0a0a"/>
<text x="464.30" y="236.17" class="ml b" fill="#f2dede" font-size="6">15</text>
<polygon points="477.78,229.11 482.68,234.01 477.78,238.91 472.88,234.01" fill="#7a0a0a"/>
<text x="477.78" y="236.17" class="ml b" fill="#f2dede" font-size="6">15</text>
<polygon points="491.27,237.13 496.17,242.03 491.27,246.93 486.37,242.03" fill="#7a0a0a"/>
<text x="491.27" y="244.19" class="ml b" fill="#f2dede" font-size="6">16</text>
<polygon points="504.75,253.16 509.65,258.06 504.75,262.96 499.86,258.06" fill="#7a0a0a"/>
<text x="504.75" y="260.22" class="ml b" fill="#f2dede" font-size="6">18</text>
<polygon points="518.24,245.14 523.14,250.04 518.24,254.94 513.34,250.04" fill="#7a0a0a"/>
<text x="518.24" y="252.20" class="ml b" fill="#f2dede" font-size="6">17</text>
<polygon points="531.73,245.14 536.62,250.04 531.73,254.94 526.83,250.04" fill="#7a0a0a"/>
<text x="531.73" y="252.20" class="ml b" fill="#f2dede" font-size="6">17</text>
<polygon points="545.21,237.13 550.11,242.03 545.21,246.93 540.31,242.03" fill="#7a0a0a"/>
<text x="545.21" y="244.19" class="ml b" fill="#f2dede" font-size="6">16</text>
<polygon points="558.69,245.14 563.59,250.04 558.69,254.94 553.79,250.04" fill="#7a0a0a"/>
<text x="558.69" y="252.20" class="ml b" fill="#f2dede" font-size="6">17</text>
<polygon points="572.18,245.14 577.08,250.04 572.18,254.94 567.28,250.04" fill="#7a0a0a"/>
<text x="572.18" y="252.20" class="ml b" fill="#f2dede" font-size="6">17</text>
<polygon points="585.66,237.13 590.56,242.03 585.66,246.93 580.76,242.03" fill="#7a0a0a"/>
<text x="585.66" y="244.19" class="ml b" fill="#f2dede" font-size="6">16</text>
<polygon points="599.15,237.13 604.05,242.03 599.15,246.93 594.25,242.03" fill="#7a0a0a"/>
<text x="599.15" y="244.19" class="ml b" fill="#f2dede" font-size="6">16</text>
<polygon points="612.63,245.14 617.53,250.04 612.63,254.94 607.74,250.04" fill="#7a0a0a"/>
<text x="612.63" y="252.20" class="ml b" fill="#f2dede" font-size="6">17</text>
<polygon points="626.12,245.14 631.02,250.04 626.12,254.94 621.22,250.04" fill="#7a0a0a"/>
<text x="626.12" y="252.20" class="ml b" fill="#f2dede" font-size="6">17</text>
<polygon points="639.61,245.14 644.50,250.04 639.61,254.94 634.71,250.04" fill="#7a0a0a"/>
<text x="639.61" y="252.20" class="ml b" fill="#f2dede" font-size="6">17</text>
<polygon points="653.09,245.14 657.99,250.04 653.09,254.94 648.19,250.04" fill="#7a0a0a"/>
<text x="653.09" y="252.20" class="ml b" fill="#f2dede" font-size="6">17</text>
<polygon points="666.57,237.13 671.47,242.03 666.57,246.93 661.67,242.03" fill="#7a0a0a"/>
<text x="666.57" y="244.19" class="ml b" fill="#f2dede" font-size="6">16</text>
<polygon points="680.06,245.14 684.96,250.04 680.06,254.94 675.16,250.04" fill="#7a0a0a"/>
<text x="680.06" y="252.20" class="ml b" fill="#f2dede" font-size="6">17</text>
<polygon points="693.54,237.13 698.44,242.03 693.54,246.93 688.64,242.03" fill="#7a0a0a"/>
<text x="693.54" y="244.19" class="ml b" fill="#f2dede" font-size="6">16</text>
<polygon points="707.03,237.13 711.93,242.03 707.03,246.93 702.13,242.03" fill="#7a0a0a"/>
<text x="707.03" y="244.19" class="ml b" fill="#f2dede" font-size="6">16</text>
<polygon points="720.51,245.14 725.41,250.04 720.51,254.94 715.62,250.04" fill="#7a0a0a"/>
<text x="720.51" y="252.20" class="ml b" fill="#f2dede" font-size="6">17</text>
<polygon points="734.00,245.14 738.90,250.04 734.00,254.94 729.10,250.04" fill="#7a0a0a"/>
<text x="734.00" y="252.20" class="ml b" fill="#f2dede" font-size="6">17</text>
<polyline points="194.60,153.85 208.08,161.87 221.57,185.91 235.06,193.93 248.54,193.93 262.02,209.96 275.51,217.98 289.00,217.98 302.48,217.98 315.96,217.98 329.45,217.98 342.93,217.98 356.42,225.99 369.90,234.01 383.39,234.01 396.88,242.03 410.36,242.03 423.85,242.03 437.33,242.03 450.81,250.04 464.30,258.06 477.78,258.06 491.27,258.06 504.75,242.03 518.24,242.03 531.73,242.03 545.21,258.06 558.69,258.06 572.18,258.06 585.66,258.06 599.15,258.06 612.63,258.06 626.12,258.06 639.61,266.07 653.09,266.07 666.57,266.07 680.06,258.06 693.54,266.07 707.03,258.06 720.51,258.06 734.00,258.06" fill="none" stroke="#48cccc" stroke-width="1.3" stroke-dasharray="3,1.6" stroke-linecap="butt" stroke-linejoin="round"/>
<polygon points="194.60,149.35 199.10,153.85 194.60,158.35 190.10,153.85" fill="#6ef0f0" stroke="#168080" stroke-width="0.9"/>
<text x="194.60" y="156.01" class="ml b" fill="#0a2a2a" font-size="6">5</text>
<polygon points="208.08,157.37 212.58,161.87 208.08,166.37 203.58,161.87" fill="#6ef0f0" stroke="#168080" stroke-width="0.9"/>
<text x="208.08" y="164.03" class="ml b" fill="#0a2a2a" font-size="6">6</text>
<polygon points="221.57,181.41 226.07,185.91 221.57,190.41 217.07,185.91" fill="#6ef0f0" stroke="#168080" stroke-width="0.9"/>
<text x="221.57" y="188.07" class="ml b" fill="#0a2a2a" font-size="6">9</text>
<polygon points="235.06,189.43 239.56,193.93 235.06,198.43 230.56,193.93" fill="#6ef0f0" stroke="#168080" stroke-width="0.9"/>
<text x="235.06" y="196.09" class="ml b" fill="#0a2a2a" font-size="6">10</text>
<polygon points="248.54,189.43 253.04,193.93 248.54,198.43 244.04,193.93" fill="#6ef0f0" stroke="#168080" stroke-width="0.9"/>
<text x="248.54" y="196.09" class="ml b" fill="#0a2a2a" font-size="6">10</text>
<polygon points="262.02,205.46 266.52,209.96 262.02,214.46 257.52,209.96" fill="#6ef0f0" stroke="#168080" stroke-width="0.9"/>
<text x="262.02" y="212.12" class="ml b" fill="#0a2a2a" font-size="6">12</text>
<polygon points="275.51,213.48 280.01,217.98 275.51,222.48 271.01,217.98" fill="#6ef0f0" stroke="#168080" stroke-width="0.9"/>
<text x="275.51" y="220.14" class="ml b" fill="#0a2a2a" font-size="6">13</text>
<polygon points="289.00,213.48 293.50,217.98 289.00,222.48 284.50,217.98" fill="#6ef0f0" stroke="#168080" stroke-width="0.9"/>
<text x="289.00" y="220.14" class="ml b" fill="#0a2a2a" font-size="6">13</text>
<polygon points="302.48,213.48 306.98,217.98 302.48,222.48 297.98,217.98" fill="#6ef0f0" stroke="#168080" stroke-width="0.9"/>
<text x="302.48" y="220.14" class="ml b" fill="#0a2a2a" font-size="6">13</text>
<polygon points="315.96,213.48 320.46,217.98 315.96,222.48 311.46,217.98" fill="#6ef0f0" stroke="#168080" stroke-width="0.9"/>
<text x="315.96" y="220.14" class="ml b" fill="#0a2a2a" font-size="6">13</text>
<polygon points="329.45,213.48 333.95,217.98 329.45,222.48 324.95,217.98" fill="#6ef0f0" stroke="#168080" stroke-width="0.9"/>
<text x="329.45" y="220.14" class="ml b" fill="#0a2a2a" font-size="6">13</text>
<polygon points="342.93,213.48 347.43,217.98 342.93,222.48 338.43,217.98" fill="#6ef0f0" stroke="#168080" stroke-width="0.9"/>
<text x="342.93" y="220.14" class="ml b" fill="#0a2a2a" font-size="6">13</text>
<polygon points="356.42,221.49 360.92,225.99 356.42,230.49 351.92,225.99" fill="#6ef0f0" stroke="#168080" stroke-width="0.9"/>
<text x="356.42" y="228.15" class="ml b" fill="#0a2a2a" font-size="6">14</text>
<polygon points="369.90,229.51 374.40,234.01 369.90,238.51 365.40,234.01" fill="#6ef0f0" stroke="#168080" stroke-width="0.9"/>
<text x="369.90" y="236.17" class="ml b" fill="#0a2a2a" font-size="6">15</text>
<polygon points="383.39,229.51 387.89,234.01 383.39,238.51 378.89,234.01" fill="#6ef0f0" stroke="#168080" stroke-width="0.9"/>
<text x="383.39" y="236.17" class="ml b" fill="#0a2a2a" font-size="6">15</text>
<polygon points="396.88,237.53 401.38,242.03 396.88,246.53 392.38,242.03" fill="#6ef0f0" stroke="#168080" stroke-width="0.9"/>
<text x="396.88" y="244.19" class="ml b" fill="#0a2a2a" font-size="6">16</text>
<polygon points="410.36,237.53 414.86,242.03 410.36,246.53 405.86,242.03" fill="#6ef0f0" stroke="#168080" stroke-width="0.9"/>
<text x="410.36" y="244.19" class="ml b" fill="#0a2a2a" font-size="6">16</text>
<polygon points="423.85,237.53 428.35,242.03 423.85,246.53 419.35,242.03" fill="#6ef0f0" stroke="#168080" stroke-width="0.9"/>
<text x="423.85" y="244.19" class="ml b" fill="#0a2a2a" font-size="6">16</text>
<polygon points="437.33,237.53 441.83,242.03 437.33,246.53 432.83,242.03" fill="#6ef0f0" stroke="#168080" stroke-width="0.9"/>
<text x="437.33" y="244.19" class="ml b" fill="#0a2a2a" font-size="6">16</text>
<polygon points="450.81,245.54 455.31,250.04 450.81,254.54 446.31,250.04" fill="#6ef0f0" stroke="#168080" stroke-width="0.9"/>
<text x="450.81" y="252.20" class="ml b" fill="#0a2a2a" font-size="6">17</text>
<polygon points="464.30,253.56 468.80,258.06 464.30,262.56 459.80,258.06" fill="#6ef0f0" stroke="#168080" stroke-width="0.9"/>
<text x="464.30" y="260.22" class="ml b" fill="#0a2a2a" font-size="6">18</text>
<polygon points="477.78,253.56 482.28,258.06 477.78,262.56 473.28,258.06" fill="#6ef0f0" stroke="#168080" stroke-width="0.9"/>
<text x="477.78" y="260.22" class="ml b" fill="#0a2a2a" font-size="6">18</text>
<polygon points="491.27,253.56 495.77,258.06 491.27,262.56 486.77,258.06" fill="#6ef0f0" stroke="#168080" stroke-width="0.9"/>
<text x="491.27" y="260.22" class="ml b" fill="#0a2a2a" font-size="6">18</text>
<polygon points="504.75,237.53 509.25,242.03 504.75,246.53 500.25,242.03" fill="#6ef0f0" stroke="#168080" stroke-width="0.9"/>
<text x="504.75" y="244.19" class="ml b" fill="#0a2a2a" font-size="6">16</text>
<polygon points="518.24,237.53 522.74,242.03 518.24,246.53 513.74,242.03" fill="#6ef0f0" stroke="#168080" stroke-width="0.9"/>
<text x="518.24" y="244.19" class="ml b" fill="#0a2a2a" font-size="6">16</text>
<polygon points="531.73,237.53 536.23,242.03 531.73,246.53 527.23,242.03" fill="#6ef0f0" stroke="#168080" stroke-width="0.9"/>
<text x="531.73" y="244.19" class="ml b" fill="#0a2a2a" font-size="6">16</text>
<polygon points="545.21,253.56 549.71,258.06 545.21,262.56 540.71,258.06" fill="#6ef0f0" stroke="#168080" stroke-width="0.9"/>
<text x="545.21" y="260.22" class="ml b" fill="#0a2a2a" font-size="6">18</text>
<polygon points="558.69,253.56 563.19,258.06 558.69,262.56 554.19,258.06" fill="#6ef0f0" stroke="#168080" stroke-width="0.9"/>
<text x="558.69" y="260.22" class="ml b" fill="#0a2a2a" font-size="6">18</text>
<polygon points="572.18,253.56 576.68,258.06 572.18,262.56 567.68,258.06" fill="#6ef0f0" stroke="#168080" stroke-width="0.9"/>
<text x="572.18" y="260.22" class="ml b" fill="#0a2a2a" font-size="6">18</text>
<polygon points="585.66,253.56 590.16,258.06 585.66,262.56 581.16,258.06" fill="#6ef0f0" stroke="#168080" stroke-width="0.9"/>
<text x="585.66" y="260.22" class="ml b" fill="#0a2a2a" font-size="6">18</text>
<polygon points="599.15,253.56 603.65,258.06 599.15,262.56 594.65,258.06" fill="#6ef0f0" stroke="#168080" stroke-width="0.9"/>
<text x="599.15" y="260.22" class="ml b" fill="#0a2a2a" font-size="6">18</text>
<polygon points="612.63,253.56 617.13,258.06 612.63,262.56 608.13,258.06" fill="#6ef0f0" stroke="#168080" stroke-width="0.9"/>
<text x="612.63" y="260.22" class="ml b" fill="#0a2a2a" font-size="6">18</text>
<polygon points="626.12,253.56 630.62,258.06 626.12,262.56 621.62,258.06" fill="#6ef0f0" stroke="#168080" stroke-width="0.9"/>
<text x="626.12" y="260.22" class="ml b" fill="#0a2a2a" font-size="6">18</text>
<polygon points="639.61,261.57 644.11,266.07 639.61,270.57 635.11,266.07" fill="#6ef0f0" stroke="#168080" stroke-width="0.9"/>
<text x="639.61" y="268.23" class="ml b" fill="#0a2a2a" font-size="6">19</text>
<polygon points="653.09,261.57 657.59,266.07 653.09,270.57 648.59,266.07" fill="#6ef0f0" stroke="#168080" stroke-width="0.9"/>
<text x="653.09" y="268.23" class="ml b" fill="#0a2a2a" font-size="6">19</text>
<polygon points="666.57,261.57 671.07,266.07 666.57,270.57 662.07,266.07" fill="#6ef0f0" stroke="#168080" stroke-width="0.9"/>
<text x="666.57" y="268.23" class="ml b" fill="#0a2a2a" font-size="6">19</text>
<polygon points="680.06,253.56 684.56,258.06 680.06,262.56 675.56,258.06" fill="#6ef0f0" stroke="#168080" stroke-width="0.9"/>
<text x="680.06" y="260.22" class="ml b" fill="#0a2a2a" font-size="6">18</text>
<polygon points="693.54,261.57 698.04,266.07 693.54,270.57 689.04,266.07" fill="#6ef0f0" stroke="#168080" stroke-width="0.9"/>
<text x="693.54" y="268.23" class="ml b" fill="#0a2a2a" font-size="6">19</text>
<polygon points="707.03,253.56 711.53,258.06 707.03,262.56 702.53,258.06" fill="#6ef0f0" stroke="#168080" stroke-width="0.9"/>
<text x="707.03" y="260.22" class="ml b" fill="#0a2a2a" font-size="6">18</text>
<polygon points="720.51,253.56 725.01,258.06 720.51,262.56 716.01,258.06" fill="#6ef0f0" stroke="#168080" stroke-width="0.9"/>
<text x="720.51" y="260.22" class="ml b" fill="#0a2a2a" font-size="6">18</text>
<polygon points="734.00,253.56 738.50,258.06 734.00,262.56 729.50,258.06" fill="#6ef0f0" stroke="#168080" stroke-width="0.9"/>
<text x="734.00" y="260.22" class="ml b" fill="#0a2a2a" font-size="6">18</text>
<rect x="604.5" y="129.2" width="29.200000000000045" height="13.300000000000011" fill="#fff" stroke="#444" stroke-width="1"/>
<text x="610.5" y="139.3" class="lb" font-size="8.6" textLength="16.7" lengthAdjust="spacingAndGlyphs">米国</text>
<rect x="546.6" y="162.6" width="36.19999999999993" height="11.900000000000006" fill="#fff" stroke="#444" stroke-width="1"/>
<text x="550.3" y="171.6" class="lb" font-size="7.5" textLength="28.2" lengthAdjust="spacingAndGlyphs">フランス</text>
<rect x="408.5" y="190.8" width="31.100000000000023" height="11.899999999999977" fill="#fff" stroke="#444" stroke-width="1"/>
<text x="412.8" y="200" class="lb" font-size="8" textLength="19.5" lengthAdjust="spacingAndGlyphs">ドイツ</text>
<rect x="272.5" y="198.6" width="33.10000000000002" height="12.599999999999994" fill="#fff" stroke="#444" stroke-width="1"/>
<text x="275.6" y="208.2" class="lb" font-size="7.6" textLength="26" lengthAdjust="spacingAndGlyphs">イタリア</text>
<rect x="242.5" y="231.6" width="23.100000000000023" height="13.800000000000011" fill="#fff" stroke="#444" stroke-width="1"/>
<text x="245" y="241.6" class="lb" font-size="9" textLength="17.2" lengthAdjust="spacingAndGlyphs">英国</text>
<rect x="354.5" y="245.5" width="33.10000000000002" height="13.800000000000011" fill="#fff" stroke="#444" stroke-width="1"/>
<text x="358.8" y="255.7" class="lb" font-size="8.4" textLength="22" lengthAdjust="spacingAndGlyphs">カナダ</text>
<rect x="658.3" y="292.5" width="23.5" height="14.5" fill="#fff" stroke="#444" stroke-width="1"/>
<text x="662.5" y="303.2" class="lb" font-size="8.6" textLength="15.3" lengthAdjust="spacingAndGlyphs">日本</text>
<line x1="387.7" y1="251.3" x2="402.3" y2="246.4" stroke="#111" stroke-width="1.3"/>
<polyline points="393.6,245.9 402.3,246.4 395.4,252.2" fill="none" stroke="#111" stroke-width="1.3"/>
<ellipse cx="708.25" cy="311.65" rx="58.45" ry="58.45" fill="none" stroke="#f00" stroke-width="2.6"/>
</svg>
<div class="t" style="left:198.00px;top:397.10px;font-size:14.00px;color:#111">日</div><div class="t" style="left:213.40px;top:397.10px;font-size:14.00px;color:#111">本</div><div class="t" style="left:230.20px;top:397.10px;font-size:14.00px;color:#111">は</div><div class="t" style="left:243.20px;top:397.10px;font-size:14.00px;color:#111">、</div><div class="t" style="left:254.00px;top:397.10px;font-size:14.00px;color:#111">以</div><div class="t" style="left:271.20px;top:397.10px;font-size:14.00px;color:#111">前</div><div class="t" style="left:285.80px;top:397.10px;font-size:14.00px;color:#111">よ</div><div class="t" style="left:294.20px;top:397.10px;font-size:14.00px;color:#111">り</div><div class="t" style="left:305.40px;top:397.10px;font-size:14.00px;color:#111">、</div><div class="t" style="left:319.80px;top:397.10px;font-size:14.00px;color:#111">先</div><div class="t" style="left:337.10px;top:397.10px;font-size:14.00px;color:#111">進</div><div class="t" style="left:350.10px;top:397.10px;font-size:14.00px;color:#111">７</div><div class="t" style="left:365.30px;top:397.10px;font-size:14.00px;color:#111">カ</div><div class="t" style="left:378.00px;top:397.10px;font-size:14.00px;color:#111">国</div><div class="t" style="left:392.90px;top:397.10px;font-size:14.00px;color:#111">の</div><div class="t" style="left:407.70px;top:397.10px;font-size:14.00px;color:#111">な</div><div class="t" style="left:421.50px;top:397.10px;font-size:14.00px;color:#111">か</div><div class="t" style="left:435.40px;top:397.10px;font-size:14.00px;color:#111">で</div><div class="t" style="left:447.30px;top:397.10px;font-size:14.00px;color:#111">も</div><div class="t" style="left:461.60px;top:397.10px;font-size:14.00px;color:#111">最</div><div class="t" style="left:477.80px;top:397.10px;font-size:14.00px;color:#111">下</div><div class="t" style="left:492.40px;top:397.10px;font-size:14.00px;color:#111">位</div><div class="t" style="left:507.50px;top:397.10px;font-size:14.00px;color:#111">の</div><div class="t" style="left:523.20px;top:397.10px;font-size:14.00px;color:#111">生</div><div class="t" style="left:539.20px;top:397.10px;font-size:14.00px;color:#111">産</div><div class="t" style="left:555.60px;top:397.10px;font-size:14.00px;color:#111">性</div><div class="t" style="left:569.80px;top:397.10px;font-size:14.00px;color:#111">で</div><div class="t" style="left:580.70px;top:397.10px;font-size:14.00px;color:#111">あ</div><div class="t" style="left:591.60px;top:397.10px;font-size:14.00px;color:#111">っ</div><div class="t" style="left:603.80px;top:397.10px;font-size:14.00px;color:#111">た</div><div class="t" style="left:616.10px;top:397.10px;font-size:14.00px;color:#111">が</div><div class="t" style="left:629.90px;top:397.10px;font-size:14.00px;color:#111">、</div><div class="t" style="left:642.70px;top:397.10px;font-size:14.00px;color:#111">2</div><div class="t" style="left:652.20px;top:397.10px;font-size:14.00px;color:#111">0</div><div class="t" style="left:661.00px;top:397.10px;font-size:14.00px;color:#111">1</div><div class="t" style="left:670.70px;top:397.10px;font-size:14.00px;color:#111">8</div><div class="t" style="left:682.20px;top:397.10px;font-size:14.00px;color:#111">年</div><div class="t" style="left:697.00px;top:397.10px;font-size:14.00px;color:#111">か</div><div class="t" style="left:709.50px;top:397.10px;font-size:14.00px;color:#111">ら</div>
<div class="t" style="left:198.00px;top:417.95px;font-size:14.00px;color:#111">一</div><div class="t" style="left:213.20px;top:417.95px;font-size:14.00px;color:#111">気</div><div class="t" style="left:228.40px;top:417.95px;font-size:14.00px;color:#111">に</div><div class="t" style="left:242.60px;top:417.95px;font-size:14.00px;color:#111">多</div><div class="t" style="left:255.10px;top:417.95px;font-size:14.00px;color:#111">く</div><div class="t" style="left:266.20px;top:417.95px;font-size:14.00px;color:#111">の</div><div class="t" style="left:280.30px;top:417.95px;font-size:14.00px;color:#111">国</div><div class="t" style="left:295.00px;top:417.95px;font-size:14.00px;color:#111">々</div><div class="t" style="left:309.60px;top:417.95px;font-size:14.00px;color:#111">に</div><div class="t" style="left:325.20px;top:417.95px;font-size:14.00px;color:#111">抜</div><div class="t" style="left:339.70px;top:417.95px;font-size:14.00px;color:#111">か</div><div class="t" style="left:352.60px;top:417.95px;font-size:14.00px;color:#111">れ</div><div class="t" style="left:366.20px;top:417.95px;font-size:14.00px;color:#111">、</div><div class="t" style="left:379.70px;top:417.95px;font-size:14.00px;color:#111">3</div><div class="t" style="left:389.30px;top:417.95px;font-size:14.00px;color:#111">0</div><div class="t" style="left:399.00px;top:417.95px;font-size:14.00px;color:#111">位</div><div class="t" style="left:412.70px;top:417.95px;font-size:14.00px;color:#111">に</div><div class="t" style="left:426.80px;top:417.95px;font-size:14.00px;color:#111">急</div><div class="t" style="left:443.50px;top:417.95px;font-size:14.00px;color:#111">落</div><div class="t" style="left:457.60px;top:417.95px;font-size:14.00px;color:#111">し</div><div class="t" style="left:471.40px;top:417.95px;font-size:14.00px;color:#111">て</div><div class="t" style="left:482.30px;top:417.95px;font-size:14.00px;color:#111">い</div><div class="t" style="left:495.80px;top:417.95px;font-size:14.00px;color:#111">る</div><div class="t" style="left:508.30px;top:417.95px;font-size:14.00px;color:#111">。</div>
<div class="t" style="left:203.80px;top:449.90px;font-size:10.50px;color:#111">出</div><div class="t" style="left:215.90px;top:449.90px;font-size:10.50px;color:#111">典</div><div class="t" style="left:228.50px;top:449.90px;font-size:10.50px;color:#111">：</div><div class="t" style="left:240.20px;top:449.90px;font-size:10.50px;color:#111">公</div><div class="t" style="left:251.50px;top:449.90px;font-size:10.50px;color:#111">益</div><div class="t" style="left:264.30px;top:449.90px;font-size:10.50px;color:#111">財</div><div class="t" style="left:275.90px;top:449.90px;font-size:10.50px;color:#111">団</div><div class="t" style="left:287.80px;top:449.90px;font-size:10.50px;color:#111">法</div><div class="t" style="left:299.10px;top:449.90px;font-size:10.50px;color:#111">人</div><div class="t" style="left:317.10px;top:449.90px;font-size:10.50px;color:#111">日</div><div class="t" style="left:328.30px;top:449.90px;font-size:10.50px;color:#111">本</div><div class="t" style="left:341.20px;top:449.90px;font-size:10.50px;color:#111">生</div><div class="t" style="left:353.50px;top:449.90px;font-size:10.50px;color:#111">産</div><div class="t" style="left:365.70px;top:449.90px;font-size:10.50px;color:#111">性</div><div class="t" style="left:377.30px;top:449.90px;font-size:10.50px;color:#111">本</div><div class="t" style="left:387.20px;top:449.90px;font-size:10.50px;color:#111">部</div><div class="t" style="left:402.20px;top:449.90px;font-size:10.50px;color:#111">『</div><div class="t" style="left:413.50px;top:449.90px;font-size:10.50px;color:#111">労</div><div class="t" style="left:426.20px;top:449.90px;font-size:10.50px;color:#111">働</div><div class="t" style="left:437.60px;top:449.90px;font-size:10.50px;color:#111">生</div><div class="t" style="left:449.90px;top:449.90px;font-size:10.50px;color:#111">産</div><div class="t" style="left:462.00px;top:449.90px;font-size:10.50px;color:#111">性</div><div class="t" style="left:472.10px;top:449.90px;font-size:10.50px;color:#111">の</div><div class="t" style="left:483.30px;top:449.90px;font-size:10.50px;color:#111">国</div><div class="t" style="left:496.20px;top:449.90px;font-size:10.50px;color:#111">際</div><div class="t" style="left:507.50px;top:449.90px;font-size:10.50px;color:#111">比</div><div class="t" style="left:520.90px;top:449.90px;font-size:10.50px;color:#111">較</div><div class="t" style="left:533.20px;top:449.90px;font-size:10.50px;color:#111">2</div><div class="t" style="left:539.80px;top:449.90px;font-size:10.50px;color:#111">0</div><div class="t" style="left:547.30px;top:449.90px;font-size:10.50px;color:#111">2</div><div class="t" style="left:553.90px;top:449.90px;font-size:10.50px;color:#111">3</div><div class="t" style="left:560.70px;top:449.90px;font-size:10.50px;color:#111">』</div><div class="t" style="left:566.30px;top:449.90px;font-size:10.50px;color:#111">よ</div><div class="t" style="left:575.50px;top:449.90px;font-size:10.50px;color:#111">り</div>
<div class="t" style="left:426.20px;top:515.85px;font-size:10.00px;letter-spacing:0.000px;font-weight:normal;color:#111">5</div>
<svg style="position:absolute;left:650px;top:490px" width="130" height="50" viewBox="650 490 130 50">
<path fill-rule="evenodd" d="M674,498.4 C668,496.2 661,498.5 658.5,503.5 C656.3,508 657.5,514 662,516.8 C666,519.2 672,518.5 674.5,514.8 C676.5,511.5 674.5,508.5 671,506.8 C668.5,505.5 667,503.5 667.3,501.2 C667.6,499.4 670.5,498.6 674,498.4 Z M664,502.5 C662,505 660.8,508 661.5,510.8 C662.3,514 665.5,516 668.3,515.8 C671,515.6 672.6,513.6 671.8,511.5 C671.2,509.8 668.8,508.8 667,507.5 C665.2,506.2 664.3,504.5 664,502.5 Z" fill="#1ea3e0"/>
<text x="679.0" y="517.8" font-size="13.3" fill="#1ea3e0" textLength="81.6" lengthAdjust="spacingAndGlyphs" style="font-family:'Liberation Sans',sans-serif">System Concierge</text>
<text x="695" y="524.8" font-size="4.3" fill="#333" font-weight="bold" textLength="49.2" lengthAdjust="spacingAndGlyphs">株式会社システムコンシェルジュ</text>
</svg>
</body></html>
